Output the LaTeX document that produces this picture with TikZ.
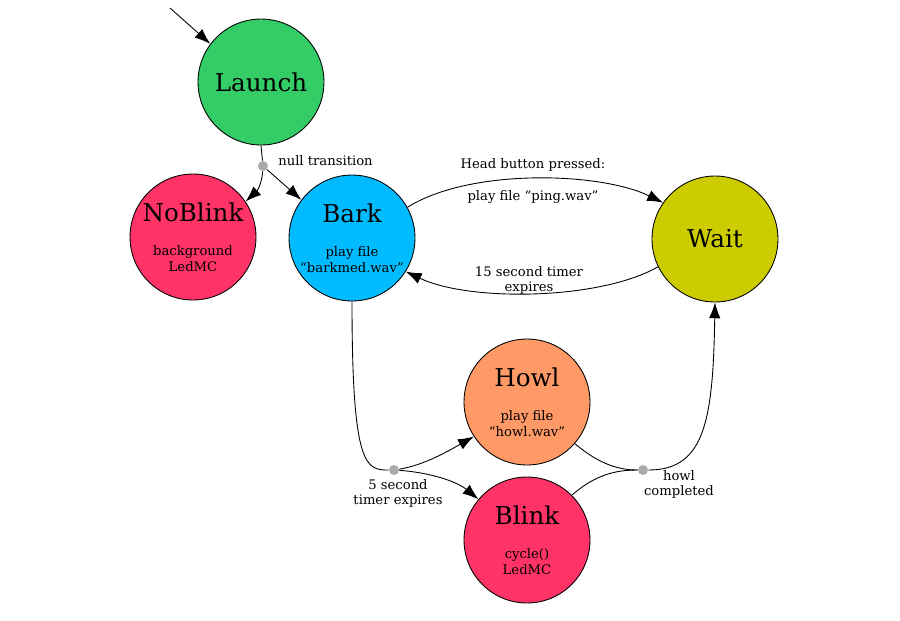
\documentclass[tikz,border=0pt]{standalone}
\usepackage{fontspec}
\setmainfont{DejaVu Serif}
\definecolor{LaunchGreen}{RGB}{51,204,102}
\definecolor{BlinkRed}   {RGB}{255,51,102}
\definecolor{BarkBlue}   {RGB}{0,187,255}
\definecolor{WaitOlive}  {RGB}{204,204,0}
\definecolor{HowlOrange} {RGB}{255,153,102}
\definecolor{DotGrey}    {RGB}{170,170,170}
\usetikzlibrary{arrows.meta,positioning}
\newcommand\sttitle[1]{{\fontsize{14}{16}\selectfont #1}}

\begin{document}
\begin{tikzpicture}[x=0.02cm,y=-0.02cm,line width=0.5pt,
  state/.style={circle,draw,minimum size=2.52cm,inner sep=0pt,
                align=center,font=\fontsize{7.5}{8.6}\selectfont},
  junct/.style={circle,fill=DotGrey,minimum size=0.2cm,inner sep=0pt},
  lbl/.style={align=center,font=\fontsize{7.5}{8.6}\selectfont},
  arr/.style={-{Latex[length=9pt,width=6.5pt]}}]
  \useasboundingbox (0,0) rectangle (900,620);
  % states
  \node[state,fill=LaunchGreen] (launch) at (261,82) {\sttitle{Launch}};
  \node[state,fill=BlinkRed] (noblink) at (193,237)
        {\sttitle{NoBlink}\\[11pt] background\\LedMC};
  \node[state,fill=BarkBlue] (bark) at (352,238)
        {\sttitle{Bark}\\[11pt] play file\\“barkmed.wav”};
  \node[state,fill=WaitOlive] (wait) at (715,239) {\sttitle{Wait}};
  \node[state,fill=HowlOrange] (howl) at (527,402)
        {\sttitle{Howl}\\[11pt] play file\\“howl.wav”};
  \node[state,fill=BlinkRed] (blink) at (527,540)
        {\sttitle{Blink}\\[11pt] cycle()\\LedMC};
  % junction points
  \node[junct] (nulldot)  at (263,166) {};
  \node[junct] (timerdot) at (394,470) {};
  \node[junct] (howldot)  at (643,470) {};
  \coordinate (start) at (170,8);
  % transitions
  \draw[arr] (start) -- (launch.143);
  \draw (launch.south) -- (nulldot);
  \draw[arr] (nulldot) .. controls (262,182) and (258,190) .. (noblink.34);
  \draw[arr] (nulldot) -- (bark.143);
  \draw[arr] (bark.29) .. controls (470,168) and (600,172) .. (wait.145);
  \draw[arr] (wait.206) .. controls (600,300) and (470,302) .. (bark.-32);
  \draw (bark.south) .. controls (352,468) and (366,470) .. (timerdot);
  \draw[arr] (timerdot) .. controls (425,465) and (450,450) .. (howl.213);
  \draw[arr] (timerdot) .. controls (425,472) and (455,480) .. (blink.140);
  \draw (howl.-41) .. controls (600,465) and (620,470) .. (howldot);
  \draw (blink.45) .. controls (595,475) and (615,470) .. (howldot);
  \draw[arr] (howldot) .. controls (705,470) and (713,420) .. (wait.south);
  % labels
  \node[lbl,anchor=west] (nulllbl) at (272,161) {null transition};
  \node[lbl] (headlbl)  at (533,165) {Head button pressed:};
  \node[lbl] (pinglbl)  at (533,197) {play file “ping.wav”};
  \node[lbl] (timerlbl) at (529,280) {15 second timer\\expires};
  \node[lbl] (fivelbl)  at (398,493) {5 second\\timer expires};
  \node[lbl] (howllbl)  at (679,484) {howl\\completed};
\end{tikzpicture}
\end{document}
